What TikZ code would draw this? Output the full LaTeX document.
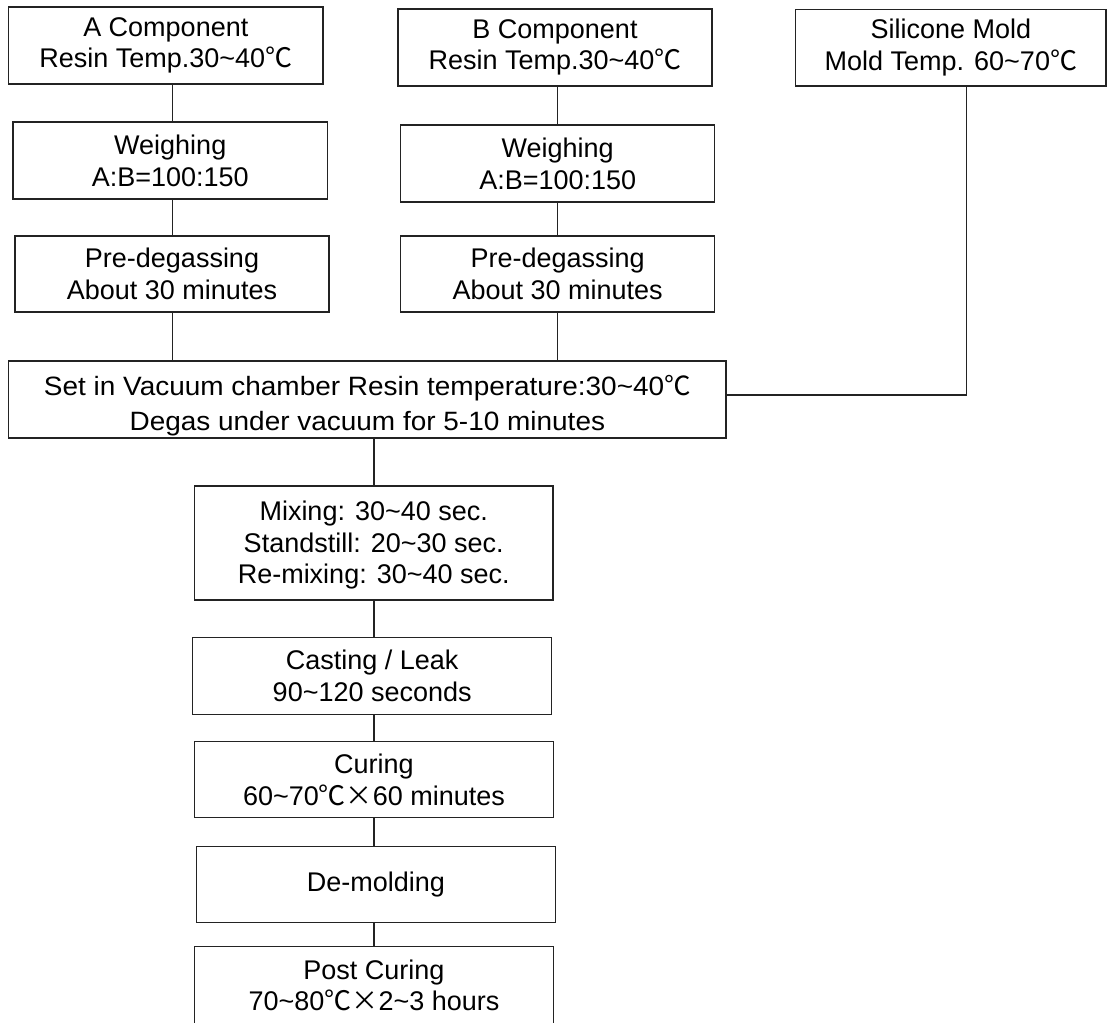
\documentclass[tikz,border=0pt]{standalone}
\usepackage{fontspec}
\setmainfont{Liberation Sans}
\newfontfamily\cjk{Noto Sans CJK SC}
\newfontfamily\widesans[FakeStretch=1.055]{Liberation Sans}
\newcommand{\dgc}{{\cjk ℃}}
\newcommand{\tms}{{\cjk ×}}
\begin{document}
\begin{tikzpicture}[x=1pt,y=-1pt,
  box/.style={draw=linec, line width=1.2pt, inner sep=0pt, align=center,
    font=\fontsize{27}{31.7}\selectfont, fill=white},
  conn/.style={draw=linec, line width=1.2pt}]
\definecolor{linec}{RGB}{35,35,35}
\path[use as bounding box] (0,0) rectangle (1107,1022);
\clip (0,0) rectangle (1107,1022);
% connector x positions
\coordinate (xa) at (172.5,0);
\coordinate (xb) at (557.7,0);
\coordinate (xs) at (966.8,0);
\coordinate (xc) at (374,0);
\coordinate (ys) at (0,395);
% boxes
\node[box, minimum width=314.4pt, minimum height=77pt] (aC) at (165.8,45.5) {A Component\\Resin Temp.30\char`~40\dgc};
\node[box, minimum width=314.5pt, minimum height=77pt] (aW) at (170.25,160.5) {Weighing\\A:B=100:150};
\node[box, minimum width=314pt, minimum height=76pt] (aP) at (172,274) {Pre-degassing\\About 30 minutes};
\node[box, minimum width=314pt, minimum height=77pt] (bC) at (555,47.5) {B Component\\Resin Temp.30\char`~40\dgc};
\node[box, minimum width=314pt, minimum height=77pt] (bW) at (557.7,163.5) {Weighing\\A:B=100:150};
\node[box, minimum width=314pt, minimum height=76pt] (bP) at (557.7,274) {Pre-degassing\\About 30 minutes};
\node[box, minimum width=310.3pt, minimum height=76.3pt] (sM) at (950.85,47.85) {Silicone Mold\\Mold Temp. 60\char`~70\dgc};
\node[box, minimum width=717.3pt, minimum height=77pt, font=\widesans\fontsize{26.5}{35}\selectfont] (vac) at (367.35,399.5) {\rule{0pt}{32pt}Set in Vacuum chamber Resin temperature:30\char`~40\dgc\\Degas under vacuum for 5-10 minutes};
\node[box, minimum width=358.6pt, minimum height=114pt] (mix) at (373.7,543) {\rule{0pt}{24pt}Mixing: 30\char`~40 sec.\\Standstill: 20\char`~30 sec.\\Re-mixing: 30\char`~40 sec.};
\node[box, minimum width=359pt, minimum height=77pt] (cast) at (372.2,675.8) {Casting / Leak\\90\char`~120 seconds};
\node[box, minimum width=358.6pt, minimum height=76pt] (cure) at (374,779.7) {Curing\\60\char`~70\dgc\tms60 minutes};
\node[box, minimum width=358.6pt, minimum height=76pt] (demold) at (376,884.7) {De-molding};
\node[box, minimum width=358.6pt, minimum height=77.3pt] (post) at (374,985.35) {Post Curing\\70\char`~80\dgc\tms2\char`~3 hours};
% connectors
\draw[conn] (aC.south -| xa) -- (aW.north -| xa);
\draw[conn] (aW.south -| xa) -- (aP.north -| xa);
\draw[conn] (aP.south -| xa) -- (vac.north -| xa);
\draw[conn] (bC.south -| xb) -- (bW.north -| xb);
\draw[conn] (bW.south -| xb) -- (bP.north -| xb);
\draw[conn] (bP.south -| xb) -- (vac.north -| xb);
\draw[conn] (sM.south -| xs) -- (xs |- ys) -- (vac.east |- ys);
\draw[conn] (vac.south -| xc) -- (mix.north -| xc);
\draw[conn] (mix.south -| xc) -- (cast.north -| xc);
\draw[conn] (cast.south -| xc) -- (cure.north -| xc);
\draw[conn] (cure.south -| xc) -- (demold.north -| xc);
\draw[conn] (demold.south -| xc) -- (post.north -| xc);
\end{tikzpicture}
\end{document}
